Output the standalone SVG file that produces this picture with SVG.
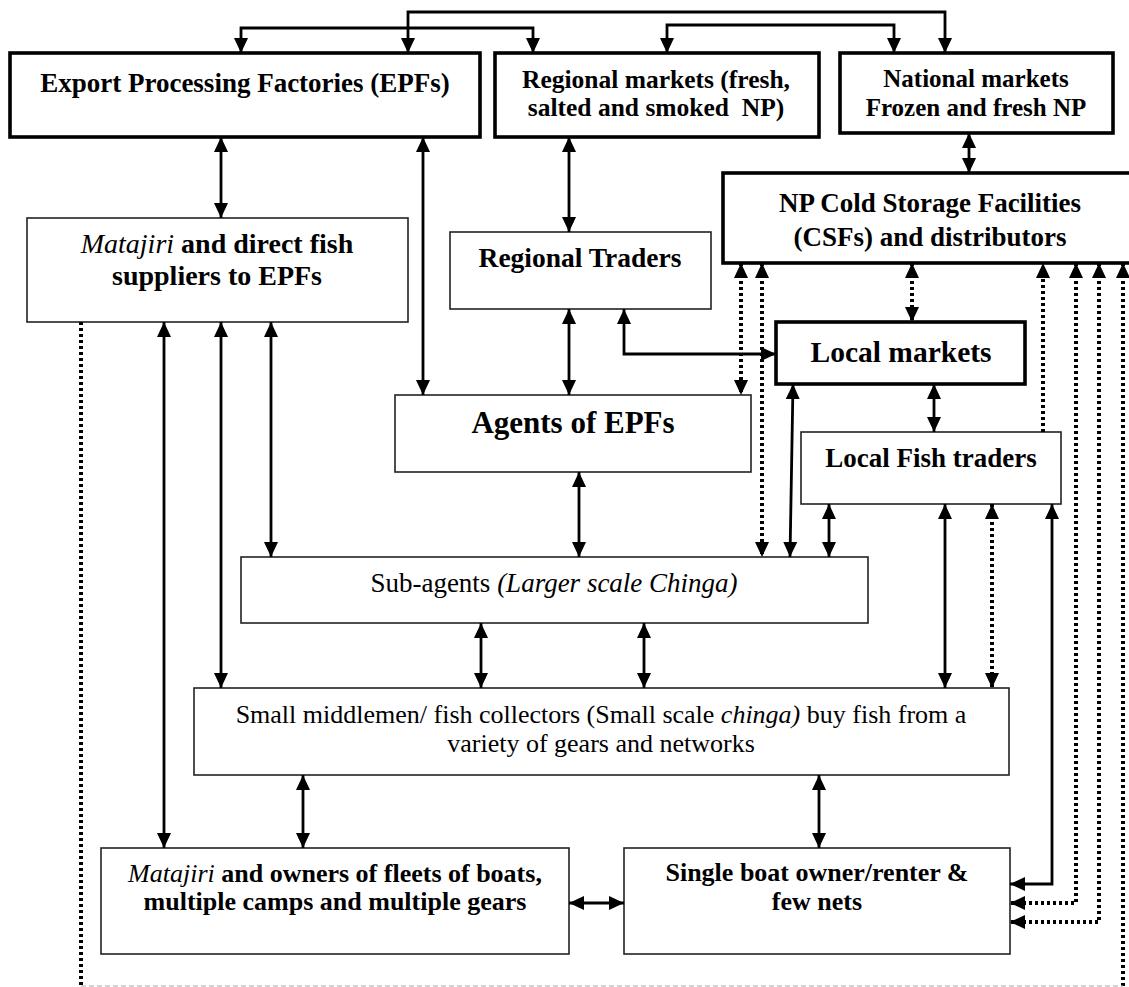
<svg xmlns="http://www.w3.org/2000/svg" width="1129" height="987" viewBox="0 0 1129 987">
  <defs>
    <marker id="arrow" viewBox="0 0 15 15" refX="15" refY="7.5" markerWidth="15" markerHeight="15" markerUnits="userSpaceOnUse" orient="auto-start-reverse">
      <path d="M0,0.5 L15,7.5 L0,14.5 z" fill="#000"/>
    </marker>
  </defs>
  <style>
    .box { fill: #fff; stroke: #222; stroke-width: 1.6; }
    .thick { fill: #fff; stroke: #000; stroke-width: 3.6; }
    .lbl { font-family: "Liberation Serif", "Times New Roman", serif; fill: #000; text-anchor: middle; }
    .b { font-weight: bold; }
    .i { font-style: italic; font-weight: normal; }
    .link { fill: none; stroke: #000; stroke-width: 2.8; }
    .dot { fill: none; stroke: #000; stroke-width: 4; stroke-dasharray: 3 3; }
    .frame { fill: none; stroke: #aaa; stroke-width: 1.2; stroke-dasharray: 5 3; }
  </style>
  <rect width="1129" height="987" fill="#fff"/>

  <!-- nodes -->
  <g id="epf">
    <rect class="thick" x="10" y="53" width="470" height="84"/>
    <text class="lbl b" x="245" y="92" font-size="27">Export Processing Factories (EPFs)</text>
  </g>
  <g id="regional-markets">
    <rect class="thick" x="495" y="53" width="324" height="84"/>
    <text class="lbl b" x="656" y="88" font-size="25.5">Regional markets (fresh,</text>
    <text class="lbl b" x="656" y="116" font-size="25.5" xml:space="preserve">salted and smoked  NP)</text>
  </g>
  <g id="national-markets">
    <rect class="thick" x="840" y="53" width="273" height="80"/>
    <text class="lbl b" x="976" y="87" font-size="25">National markets</text>
    <text class="lbl b" x="976" y="116" font-size="25">Frozen and fresh NP</text>
  </g>
  <g id="cold-storage">
    <rect class="thick" x="723" y="173" width="420" height="90"/>
    <text class="lbl b" x="930" y="212" font-size="27">NP Cold Storage Facilities</text>
    <text class="lbl b" x="930" y="246" font-size="27">(CSFs) and distributors</text>
  </g>
  <g id="matajiri-suppliers">
    <rect class="box" x="27" y="218" width="381" height="104"/>
    <text class="lbl b" x="217" y="253" font-size="28"><tspan class="i">Matajiri</tspan> and direct fish</text>
    <text class="lbl b" x="217" y="285" font-size="28">suppliers to EPFs</text>
  </g>
  <g id="regional-traders">
    <rect class="box" x="450" y="232" width="261" height="77"/>
    <text class="lbl b" x="580" y="267" font-size="27.5">Regional Traders</text>
  </g>
  <g id="local-markets">
    <rect class="thick" x="776" y="322" width="249" height="62"/>
    <text class="lbl b" x="901" y="362" font-size="29.5">Local markets</text>
  </g>
  <g id="agents">
    <rect class="box" x="395" y="395" width="356" height="77"/>
    <text class="lbl b" x="573" y="433" font-size="31">Agents of EPFs</text>
  </g>
  <g id="local-fish-traders">
    <rect class="box" x="801" y="432" width="260" height="72"/>
    <text class="lbl b" x="931" y="467" font-size="27">Local Fish traders</text>
  </g>
  <g id="sub-agents">
    <rect class="box" x="241" y="557" width="627" height="66"/>
    <text class="lbl" x="554" y="592" font-size="27">Sub-agents <tspan class="i">(Larger scale Chinga)</tspan></text>
  </g>
  <g id="small-middlemen">
    <rect class="box" x="194" y="688" width="815" height="87"/>
    <text class="lbl" x="601" y="723" font-size="26">Small middlemen/ fish collectors (Small scale <tspan class="i">chinga)</tspan> buy fish from a</text>
    <text class="lbl" x="601" y="752" font-size="26">variety of gears and networks</text>
  </g>
  <g id="matajiri-fleets">
    <rect class="box" x="101" y="848" width="468" height="106"/>
    <text class="lbl b" x="335" y="882" font-size="26"><tspan class="i">Matajiri</tspan> and owners of fleets of boats,</text>
    <text class="lbl b" x="335" y="910" font-size="26">multiple camps and multiple gears</text>
  </g>
  <g id="single-boat">
    <rect class="box" x="624" y="848" width="386" height="106"/>
    <text class="lbl b" x="817" y="881" font-size="26">Single boat owner/renter &amp;</text>
    <text class="lbl b" x="817" y="910" font-size="26">few nets</text>
  </g>

  <!-- connectors -->
  <g id="connectors">
    <!-- market links along the top -->
    <path class="link" d="M408,53 V12 H945 V53" marker-start="url(#arrow)" marker-end="url(#arrow)"/>
    <path class="link" d="M241,53 V28 H533 V53" marker-start="url(#arrow)" marker-end="url(#arrow)"/>
    <path class="link" d="M667,53 V25 H894 V53" marker-start="url(#arrow)" marker-end="url(#arrow)"/>

    <!-- solid two-way links -->
    <path class="link" d="M221,137 V218" marker-start="url(#arrow)" marker-end="url(#arrow)"/>
    <path class="link" d="M423,137 V395" marker-start="url(#arrow)" marker-end="url(#arrow)"/>
    <path class="link" d="M569,137 V232" marker-start="url(#arrow)" marker-end="url(#arrow)"/>
    <path class="link" d="M569,309 V395" marker-start="url(#arrow)" marker-end="url(#arrow)"/>
    <path class="link" d="M969,133 V173" marker-start="url(#arrow)" marker-end="url(#arrow)"/>
    <path class="link" d="M624,309 V354 H776" marker-start="url(#arrow)" marker-end="url(#arrow)"/>
    <path class="link" d="M579,472 V557" marker-start="url(#arrow)" marker-end="url(#arrow)"/>
    <path class="link" d="M793,384 L790,557" marker-start="url(#arrow)" marker-end="url(#arrow)"/>
    <path class="link" d="M829,504 V557" marker-start="url(#arrow)" marker-end="url(#arrow)"/>
    <path class="link" d="M934,384 V432" marker-start="url(#arrow)" marker-end="url(#arrow)"/>
    <path class="link" d="M164,322 V848" marker-start="url(#arrow)" marker-end="url(#arrow)"/>
    <path class="link" d="M221,322 V688" marker-start="url(#arrow)" marker-end="url(#arrow)"/>
    <path class="link" d="M271,322 V557" marker-start="url(#arrow)" marker-end="url(#arrow)"/>
    <path class="link" d="M481,623 V688" marker-start="url(#arrow)" marker-end="url(#arrow)"/>
    <path class="link" d="M644,623 V688" marker-start="url(#arrow)" marker-end="url(#arrow)"/>
    <path class="link" d="M945,504 V688" marker-start="url(#arrow)" marker-end="url(#arrow)"/>
    <path class="link" d="M303,775 V848" marker-start="url(#arrow)" marker-end="url(#arrow)"/>
    <path class="link" d="M819,775 V848" marker-start="url(#arrow)" marker-end="url(#arrow)"/>
    <path class="link" d="M569,903 H624" marker-start="url(#arrow)" marker-end="url(#arrow)"/>
    <path class="link" d="M1052,504 V884 H1010" marker-start="url(#arrow)" marker-end="url(#arrow)"/>

    <!-- dotted links to the cold storage facilities -->
    <path class="dot" d="M741,263 V395" marker-start="url(#arrow)" marker-end="url(#arrow)"/>
    <path class="dot" d="M762,263 V557" marker-start="url(#arrow)" marker-end="url(#arrow)"/>
    <path class="dot" d="M912,263 V322" marker-start="url(#arrow)" marker-end="url(#arrow)"/>
    <path class="dot" d="M1043,432 V263" marker-end="url(#arrow)"/>
    <path class="dot" d="M992,504 V688" marker-start="url(#arrow)" marker-end="url(#arrow)"/>
    <path class="dot" d="M1076,263 V903 H1010" marker-start="url(#arrow)" marker-end="url(#arrow)"/>
    <path class="dot" d="M1099,263 V922 H1010" marker-start="url(#arrow)" marker-end="url(#arrow)"/>
    <path class="dot" d="M1123,986 V263" marker-end="url(#arrow)"/>
    <path class="dot" d="M81,322 V986"/>
    <path class="frame" d="M81,986 H1123"/>
  </g>
</svg>
